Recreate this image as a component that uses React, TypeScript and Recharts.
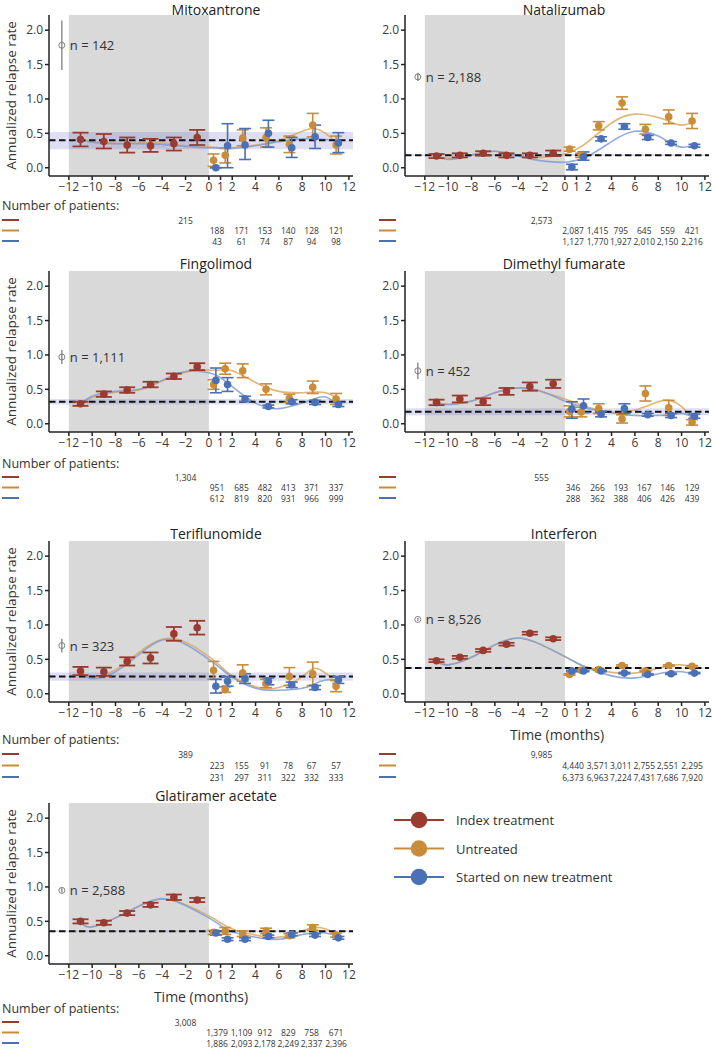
import React from "react";
import { ComposedChart, XAxis, YAxis, Line, Scatter, ErrorBar, ReferenceArea, ReferenceLine } from "recharts";

const RED = "#9a3b30";
const ORANGE = "#c98c3a";
const BLUE = "#4a70b5";
const ORANGE_CURVE = "#d9a862";
const BLUE_CURVE = "#7f9cd6";
const FONT = "'Open Sans', 'Noto Sans', sans-serif";

// x positions (months) of the plotted groups
const indexMonths = [-11, -9, -7, -5, -3, -1];
const untreatedMonths = [0.4, 1.4, 2.9, 4.9, 6.9, 8.9, 10.9];
const startedMonths = [0.6, 1.6, 3.1, 5.1, 7.1, 9.1, 11.1];
const curveMonths = [-11, -10, -8, -6, -4, -2, 0, 1, 2, 4, 6, 8, 9, 10, 11];
const xTicks = [-12, -10, -8, -6, -4, -2, 0, 1, 2, 4, 6, 8, 10, 12];
const yTicks = [0, 0.5, 1, 1.5, 2];

// [rate, lower, upper]
const mitoIndex = [[0.41, 0.31, 0.51], [0.38, 0.28, 0.49], [0.33, 0.22, 0.44], [0.32, 0.23, 0.42], [0.35, 0.25, 0.44], [0.44, 0.33, 0.55]];
const mitoUntreated = [[0.11, 0.02, 0.2], [0.18, 0.07, 0.29], [0.43, 0.32, 0.55], [0.44, 0.3, 0.58], [0.34, 0.22, 0.46], [0.62, 0.45, 0.79], [0.33, 0.2, 0.46]];
const mitoStarted = [[0.0, 0.0, 0.0], [0.32, 0.0, 0.64], [0.33, 0.12, 0.57], [0.5, 0.3, 0.69], [0.29, 0.15, 0.44], [0.45, 0.28, 0.62], [0.36, 0.22, 0.51]];
const mitoUntreatedCurve = [0.41, 0.38, 0.35, 0.36, 0.36, 0.32, 0.3, 0.29, 0.29, 0.33, 0.4, 0.53, 0.57, 0.5, 0.35];
const mitoStartedCurve = [0.41, 0.37, 0.35, 0.35, 0.34, 0.31, 0.29, 0.28, 0.28, 0.32, 0.38, 0.42, 0.42, 0.41, 0.4];
const mitoBaseline = [0.4, 0.27, 0.52];
const mitoN = [1.78, 1.42, 2.14];
const mitoPatientsIndex = ["215"];
const mitoPatientsUntreated = ["188", "171", "153", "140", "128", "121"];
const mitoPatientsStarted = ["43", "61", "74", "87", "94", "98"];

const nataIndex = [[0.17, 0.14, 0.2], [0.18, 0.15, 0.21], [0.21, 0.18, 0.24], [0.18, 0.15, 0.21], [0.18, 0.15, 0.21], [0.21, 0.17, 0.25]];
const nataUntreated = [[0.27, 0.24, 0.3], [0.18, 0.15, 0.21], [0.61, 0.55, 0.67], [0.94, 0.85, 1.03], [0.56, 0.49, 0.63], [0.74, 0.64, 0.84], [0.68, 0.57, 0.79]];
const nataStarted = [[0.01, -0.03, 0.05], [0.16, 0.11, 0.23], [0.42, 0.39, 0.45], [0.6, 0.56, 0.64], [0.44, 0.41, 0.47], [0.36, 0.34, 0.38], [0.32, 0.3, 0.34]];
const nataUntreatedCurve = [0.17, 0.14, 0.19, 0.24, 0.18, 0.15, 0.2, 0.27, 0.38, 0.65, 0.78, 0.73, 0.67, 0.62, 0.66];
const nataStartedCurve = [0.17, 0.12, 0.18, 0.24, 0.17, 0.1, 0.08, 0.11, 0.17, 0.38, 0.53, 0.46, 0.36, 0.3, 0.32];
const nataBaseline = [0.18, 0.17, 0.2];
const nataN = [1.32, 1.26, 1.38];
const nataPatientsIndex = ["2,573"];
const nataPatientsUntreated = ["2,087", "1,415", "795", "645", "559", "421"];
const nataPatientsStarted = ["1,127", "1,770", "1,927", "2,010", "2,150", "2,216"];

const fingIndex = [[0.29, 0.26, 0.32], [0.43, 0.39, 0.47], [0.49, 0.45, 0.53], [0.57, 0.53, 0.61], [0.69, 0.65, 0.73], [0.83, 0.78, 0.88]];
const fingUntreated = [[0.57, 0.5, 0.64], [0.8, 0.72, 0.88], [0.77, 0.67, 0.87], [0.5, 0.42, 0.58], [0.37, 0.31, 0.43], [0.53, 0.44, 0.62], [0.36, 0.28, 0.44]];
const fingStarted = [[0.63, 0.45, 0.81], [0.57, 0.47, 0.67], [0.36, 0.32, 0.4], [0.25, 0.23, 0.27], [0.32, 0.29, 0.35], [0.31, 0.28, 0.34], [0.28, 0.25, 0.31]];
const fingUntreatedCurve = [0.28, 0.38, 0.46, 0.49, 0.62, 0.75, 0.78, 0.78, 0.77, 0.6, 0.47, 0.45, 0.46, 0.45, 0.37];
const fingStartedCurve = [0.28, 0.4, 0.47, 0.5, 0.63, 0.76, 0.74, 0.67, 0.54, 0.3, 0.22, 0.3, 0.36, 0.39, 0.28];
const fingBaseline = [0.32, 0.28, 0.36];
const fingN = [0.97, 0.87, 1.07];
const fingPatientsIndex = ["1,304"];
const fingPatientsUntreated = ["951", "685", "482", "413", "371", "337"];
const fingPatientsStarted = ["612", "819", "820", "931", "966", "999"];

const dmfIndex = [[0.31, 0.27, 0.35], [0.36, 0.31, 0.41], [0.32, 0.27, 0.37], [0.47, 0.42, 0.52], [0.54, 0.48, 0.6], [0.58, 0.52, 0.64]];
const dmfUntreated = [[0.18, 0.1, 0.26], [0.17, 0.1, 0.24], [0.22, 0.15, 0.29], [0.07, 0.01, 0.13], [0.44, 0.33, 0.55], [0.23, 0.12, 0.34], [0.02, -0.02, 0.06]];
const dmfStarted = [[0.21, 0.08, 0.32], [0.26, 0.16, 0.36], [0.14, 0.1, 0.18], [0.22, 0.15, 0.29], [0.13, 0.11, 0.15], [0.12, 0.09, 0.15], [0.11, 0.08, 0.14]];
const dmfUntreatedCurve = [0.31, 0.28, 0.33, 0.45, 0.52, 0.47, 0.36, 0.3, 0.24, 0.17, 0.2, 0.32, 0.34, 0.25, 0.05];
const dmfStartedCurve = [0.31, 0.28, 0.33, 0.45, 0.52, 0.47, 0.33, 0.27, 0.22, 0.16, 0.12, 0.12, 0.13, 0.15, 0.1];
const dmfBaseline = [0.175, 0.125, 0.225];
const dmfN = [0.77, 0.65, 0.89];
const dmfPatientsIndex = ["555"];
const dmfPatientsUntreated = ["346", "266", "193", "167", "146", "129"];
const dmfPatientsStarted = ["288", "362", "388", "406", "426", "439"];

const teriIndex = [[0.33, 0.27, 0.39], [0.32, 0.26, 0.38], [0.47, 0.41, 0.53], [0.52, 0.44, 0.6], [0.87, 0.77, 0.97], [0.96, 0.86, 1.06]];
const teriUntreated = [[0.34, 0.21, 0.47], [0.06, 0.02, 0.1], [0.3, 0.18, 0.42], [0.15, 0.09, 0.21], [0.25, 0.12, 0.38], [0.29, 0.12, 0.46], [0.11, 0.03, 0.19]];
const teriStarted = [[0.11, 0.01, 0.21], [0.18, 0.11, 0.25], [0.22, 0.15, 0.29], [0.18, 0.13, 0.23], [0.13, 0.09, 0.17], [0.09, 0.06, 0.12], [0.2, 0.15, 0.25]];
const teriUntreatedCurve = [0.32, 0.24, 0.35, 0.6, 0.79, 0.75, 0.54, 0.4, 0.26, 0.1, 0.09, 0.25, 0.37, 0.3, 0.15];
const teriStartedCurve = [0.32, 0.22, 0.32, 0.57, 0.78, 0.72, 0.5, 0.37, 0.24, 0.08, 0.05, 0.08, 0.14, 0.2, 0.2];
const teriBaseline = [0.25, 0.19, 0.31];
const teriN = [0.7, 0.6, 0.8];
const teriPatientsIndex = ["389"];
const teriPatientsUntreated = ["223", "155", "91", "78", "67", "57"];
const teriPatientsStarted = ["231", "297", "311", "322", "332", "333"];

const ifnIndex = [[0.48, 0.46, 0.5], [0.53, 0.51, 0.55], [0.63, 0.61, 0.65], [0.72, 0.7, 0.74], [0.88, 0.86, 0.9], [0.8, 0.78, 0.82]];
const ifnUntreated = [[0.28, 0.27, 0.29], [0.34, 0.33, 0.35], [0.35, 0.34, 0.36], [0.41, 0.4, 0.42], [0.33, 0.32, 0.34], [0.41, 0.4, 0.42], [0.4, 0.39, 0.41]];
const ifnStarted = [[0.33, 0.32, 0.34], [0.33, 0.32, 0.34], [0.33, 0.32, 0.34], [0.3, 0.29, 0.31], [0.28, 0.27, 0.29], [0.29, 0.28, 0.3], [0.3, 0.29, 0.31]];
const ifnUntreatedCurve = [0.47, 0.42, 0.53, 0.71, 0.81, 0.71, 0.54, 0.45, 0.38, 0.31, 0.3, 0.37, 0.41, 0.42, 0.38];
const ifnStartedCurve = [0.47, 0.42, 0.53, 0.71, 0.81, 0.71, 0.54, 0.45, 0.37, 0.26, 0.23, 0.29, 0.32, 0.32, 0.29];
const ifnBaseline = [0.375, 0.365, 0.385];
const ifnN = [1.08, 1.06, 1.1];
const ifnPatientsIndex = ["9,985"];
const ifnPatientsUntreated = ["4,440", "3,571", "3,011", "2,755", "2,551", "2,295"];
const ifnPatientsStarted = ["6,373", "6,963", "7,224", "7,431", "7,686", "7,920"];

const glatIndex = [[0.5, 0.47, 0.53], [0.48, 0.45, 0.51], [0.62, 0.59, 0.65], [0.74, 0.71, 0.77], [0.85, 0.81, 0.89], [0.81, 0.78, 0.84]];
const glatUntreated = [[0.34, 0.31, 0.37], [0.36, 0.31, 0.41], [0.32, 0.28, 0.36], [0.36, 0.32, 0.4], [0.29, 0.26, 0.32], [0.41, 0.37, 0.45], [0.3, 0.27, 0.33]];
const glatStarted = [[0.33, 0.3, 0.36], [0.24, 0.22, 0.26], [0.24, 0.22, 0.26], [0.28, 0.26, 0.3], [0.31, 0.29, 0.33], [0.3, 0.28, 0.32], [0.26, 0.24, 0.28]];
const glatUntreatedCurve = [0.48, 0.42, 0.55, 0.72, 0.82, 0.74, 0.58, 0.48, 0.39, 0.3, 0.27, 0.36, 0.41, 0.39, 0.31];
const glatStartedCurve = [0.48, 0.42, 0.55, 0.72, 0.83, 0.73, 0.55, 0.44, 0.35, 0.27, 0.24, 0.31, 0.33, 0.33, 0.28];
const glatBaseline = [0.355, 0.34, 0.37];
const glatN = [0.95, 0.92, 0.98];
const glatPatientsIndex = ["3,008"];
const glatPatientsUntreated = ["1,379", "1,109", "912", "829", "758", "671"];
const glatPatientsStarted = ["1,886", "2,093", "2,178", "2,249", "2,337", "2,396"];

const legendLabels = ["Index treatment", "Untreated", "Started on new treatment"];
const legendColors = [RED, ORANGE, BLUE];

// layout
const CHART_W = 356;
const PLOT_LEFT = 49;
const PLOT_W = 304;
const PLOT_H = 161;
const X_DOMAIN = [-13.7, 12.35];
const Y_DOMAIN = [-0.12, 2.22];
const rowTops = [15, 271, 541, 803];
const titleBaselines = [15, 268.5, 538.5, 800.5];
const tableLayout = [
  { number: 29, rows: [44, 54.5, 65] },
  { number: 31, rows: [45, 55.5, 66] },
  { number: 37, rows: [52, 63.5, 75] },
  { number: 44, rows: [58, 68.5, 79] },
];
const tableMonths = [0.7, 2.8, 4.8, 6.8, 8.8, 10.9];

type Panel = {
  title: string;
  col: number;
  row: number;
  index: number[][];
  untreated: number[][];
  started: number[][];
  untreatedCurve: number[];
  startedCurve: number[];
  baseline: number[];
  n: number[];
  nLabel: string;
  patients: string[][];
  numberLabel: boolean;
  timeLabel: boolean;
};

const panels: Panel[] = [
  { title: "Mitoxantrone", col: 0, row: 0, index: mitoIndex, untreated: mitoUntreated, started: mitoStarted, untreatedCurve: mitoUntreatedCurve, startedCurve: mitoStartedCurve, baseline: mitoBaseline, n: mitoN, nLabel: "n = 142", patients: [mitoPatientsIndex, mitoPatientsUntreated, mitoPatientsStarted], numberLabel: true, timeLabel: false },
  { title: "Natalizumab", col: 1, row: 0, index: nataIndex, untreated: nataUntreated, started: nataStarted, untreatedCurve: nataUntreatedCurve, startedCurve: nataStartedCurve, baseline: nataBaseline, n: nataN, nLabel: "n = 2,188", patients: [nataPatientsIndex, nataPatientsUntreated, nataPatientsStarted], numberLabel: false, timeLabel: false },
  { title: "Fingolimod", col: 0, row: 1, index: fingIndex, untreated: fingUntreated, started: fingStarted, untreatedCurve: fingUntreatedCurve, startedCurve: fingStartedCurve, baseline: fingBaseline, n: fingN, nLabel: "n = 1,111", patients: [fingPatientsIndex, fingPatientsUntreated, fingPatientsStarted], numberLabel: true, timeLabel: false },
  { title: "Dimethyl fumarate", col: 1, row: 1, index: dmfIndex, untreated: dmfUntreated, started: dmfStarted, untreatedCurve: dmfUntreatedCurve, startedCurve: dmfStartedCurve, baseline: dmfBaseline, n: dmfN, nLabel: "n = 452", patients: [dmfPatientsIndex, dmfPatientsUntreated, dmfPatientsStarted], numberLabel: false, timeLabel: false },
  { title: "Teriflunomide", col: 0, row: 2, index: teriIndex, untreated: teriUntreated, started: teriStarted, untreatedCurve: teriUntreatedCurve, startedCurve: teriStartedCurve, baseline: teriBaseline, n: teriN, nLabel: "n = 323", patients: [teriPatientsIndex, teriPatientsUntreated, teriPatientsStarted], numberLabel: true, timeLabel: false },
  { title: "Interferon", col: 1, row: 2, index: ifnIndex, untreated: ifnUntreated, started: ifnStarted, untreatedCurve: ifnUntreatedCurve, startedCurve: ifnStartedCurve, baseline: ifnBaseline, n: ifnN, nLabel: "n = 8,526", patients: [ifnPatientsIndex, ifnPatientsUntreated, ifnPatientsStarted], numberLabel: false, timeLabel: true },
  { title: "Glatiramer acetate", col: 0, row: 3, index: glatIndex, untreated: glatUntreated, started: glatStarted, untreatedCurve: glatUntreatedCurve, startedCurve: glatStartedCurve, baseline: glatBaseline, n: glatN, nLabel: "n = 2,588", patients: [glatPatientsIndex, glatPatientsUntreated, glatPatientsStarted], numberLabel: true, timeLabel: true },
];

const toPoints = (rows: number[][], months: number[]) =>
  rows.map((r, i) => ({ x: months[i], y: r[0], err: [r[0] - r[1], r[2] - r[0]] }));

const toCurve = (vals: number[]) => vals.map((v, i) => ({ x: curveMonths[i], y: v }));

const xPix = (m: number) => PLOT_LEFT + ((m - X_DOMAIN[0]) / (X_DOMAIN[1] - X_DOMAIN[0])) * PLOT_W;

const dot = (color: string) => (props: any) => <circle cx={props.cx} cy={props.cy} r={3.8} fill={color} />;

function PanelChart({ p }: { p: Panel }) {
  const nLabel = p.nLabel;
  const nShape = (props: any) => (
    <g>
      <circle cx={props.cx} cy={props.cy} r={3} fill="none" stroke="#808080" strokeWidth={1} />
      <text x={props.cx + 8} y={props.cy} dominantBaseline="central" fontSize={13} fill="#333" fontFamily={FONT}>
        {nLabel}
      </text>
    </g>
  );
  const nData = [{ x: -12.6, y: p.n[0], err: [p.n[0] - p.n[1], p.n[2] - p.n[0]] }];
  return (
    <div style={{ position: "absolute", left: p.col * CHART_W, top: rowTops[p.row] - 14 }}>
      <ComposedChart width={CHART_W} height={14 + PLOT_H + 24} margin={{ top: 14, right: 3, bottom: 0, left: 0 }}>
        <XAxis
          type="number"
          dataKey="x"
          domain={X_DOMAIN}
          ticks={xTicks}
          interval={0}
          allowDataOverflow
          height={24}
          tickSize={4}
          tickMargin={2}
          stroke="#222"
          strokeWidth={1.5}
          tick={{ fontSize: 12, fill: "#3a3a3a", fontFamily: FONT }}
          tickFormatter={(v: number) => String(v).replace("-", "\u2212")}
        />
        <YAxis
          type="number"
          domain={Y_DOMAIN}
          ticks={yTicks}
          allowDataOverflow
          width={PLOT_LEFT}
          tickSize={4}
          tickMargin={2}
          stroke="#222"
          strokeWidth={1.5}
          tick={{ fontSize: 12, fill: "#3a3a3a", fontFamily: FONT }}
          tickFormatter={(v: number) => v.toFixed(1)}
        />
        <ReferenceArea x1={-12} x2={0} fill="#d9d9d9" fillOpacity={1} stroke="none" />
        <ReferenceArea y1={p.baseline[1]} y2={p.baseline[2]} fill="#6b6bd0" fillOpacity={0.22} stroke="none" />
        <Line data={toCurve(p.untreatedCurve)} dataKey="y" type="natural" dot={false} stroke={ORANGE_CURVE} strokeWidth={1.6} strokeOpacity={0.85} isAnimationActive={false} />
        <Line data={toCurve(p.startedCurve)} dataKey="y" type="natural" dot={false} stroke={BLUE_CURVE} strokeWidth={1.6} strokeOpacity={0.85} isAnimationActive={false} />
        <ReferenceLine y={p.baseline[0]} stroke="#111" strokeWidth={2} strokeDasharray="6.5 3.5" />
        <Scatter data={nData} dataKey="y" shape={nShape} isAnimationActive={false}>
          <ErrorBar dataKey="err" direction="y" width={0} stroke="#808080" strokeWidth={1.3} />
        </Scatter>
        <Scatter data={toPoints(p.index, indexMonths)} dataKey="y" shape={dot(RED)} isAnimationActive={false}>
          <ErrorBar dataKey="err" direction="y" width={8} stroke={RED} strokeWidth={1.8} />
        </Scatter>
        <Scatter data={toPoints(p.untreated, untreatedMonths)} dataKey="y" shape={dot(ORANGE)} isAnimationActive={false}>
          <ErrorBar dataKey="err" direction="y" width={6} stroke={ORANGE} strokeWidth={1.6} />
        </Scatter>
        <Scatter data={toPoints(p.started, startedMonths)} dataKey="y" shape={dot(BLUE)} isAnimationActive={false}>
          <ErrorBar dataKey="err" direction="y" width={6} stroke={BLUE} strokeWidth={1.6} />
        </Scatter>
      </ComposedChart>
    </div>
  );
}

function PanelText({ p }: { p: Panel }) {
  const left = p.col * CHART_W;
  const top = rowTops[p.row];
  const axisY = top + PLOT_H;
  const lay = tableLayout[p.row];
  const colors = [RED, ORANGE, BLUE];
  const lineX = p.col === 0 ? 2 : 23;
  return (
    <g fontFamily={FONT}>
      <text x={left + (p.col === 0 ? 216 : 208)} y={titleBaselines[p.row]} textAnchor="middle" fontSize={14} fill="#222">
        {p.title}
      </text>
      {p.col === 0 && (
        <text
          transform={`translate(${left + 11}, ${top + PLOT_H / 2}) rotate(-90)`}
          textAnchor="middle"
          dominantBaseline="central"
          fontSize={13.5}
          fill="#333"
        >
          Annualized relapse rate
        </text>
      )}
      {p.timeLabel && (
        <text x={left + 201} y={axisY + 32} textAnchor="middle" dominantBaseline="central" fontSize={14} fill="#333">
          Time (months)
        </text>
      )}
      {p.numberLabel && (
        <text x={left + 2} y={axisY + lay.number} dominantBaseline="central" fontSize={12.5} fill="#333">
          Number of patients:
        </text>
      )}
      {colors.map((c, i) => (
        <line key={c} x1={left + lineX} x2={left + lineX + 17} y1={axisY + lay.rows[i]} y2={axisY + lay.rows[i]} stroke={c} strokeWidth={2} />
      ))}
      <text x={left + xPix(-2)} y={axisY + lay.rows[0]} textAnchor="middle" dominantBaseline="central" fontSize={8.5} fill="#333">
        {p.patients[0][0]}
      </text>
      {[1, 2].map((r) =>
        p.patients[r].map((v, i) => (
          <text key={`${r}-${i}`} x={left + xPix(tableMonths[i])} y={axisY + lay.rows[r]} textAnchor="middle" dominantBaseline="central" fontSize={8.5} fill="#333">
            {v}
          </text>
        ))
      )}
    </g>
  );
}

export default function App() {
  return (
    <div style={{ position: "absolute", left: 0, top: 0, width: 712, height: 1049, background: "#fff", fontFamily: FONT }}>
      {panels.map((p) => (
        <PanelChart key={p.title} p={p} />
      ))}
      <svg width={712} height={1049} style={{ position: "absolute", left: 0, top: 0, pointerEvents: "none" }}>
        {panels.map((p) => (
          <PanelText key={p.title} p={p} />
        ))}
        {legendLabels.map((label, i) => {
          const y = 820 + i * 28.5;
          return (
            <g key={label} fontFamily={FONT}>
              <line x1={394} x2={444} y1={y} y2={y} stroke={legendColors[i]} strokeWidth={2} />
              <circle cx={419} cy={y} r={8.3} fill={legendColors[i]} />
              <text x={456} y={y} dominantBaseline="central" fontSize={13} fill="#333">
                {label}
              </text>
            </g>
          );
        })}
      </svg>
    </div>
  );
}
